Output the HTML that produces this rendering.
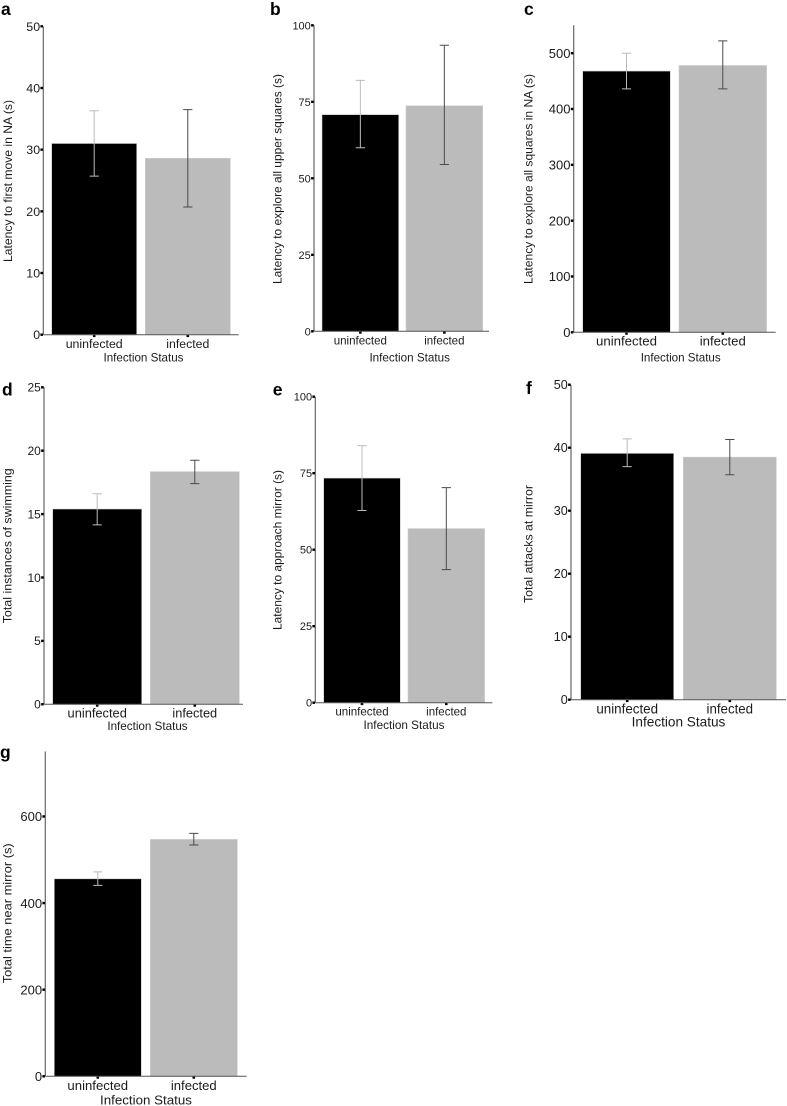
<!DOCTYPE html>
<html lang="en">
<head>
<meta charset="utf-8">
<title>Infection status behaviour bar charts</title>
<style>
  html, body { margin: 0; padding: 0; background: #fff; }
  #figure { display: block; width: 787px; height: 1106px; filter: blur(0.3px); }
  text { font-family: "Liberation Sans", sans-serif; fill: #1c1c1c; }
</style>
</head>
<body>
<svg id="figure" xmlns="http://www.w3.org/2000/svg" width="787" height="1106" viewBox="0 0 787 1106"></svg>
<script>
const categories = ['uninfected', 'infected'];
const xAxisTitle = 'Infection Status';

const aMeans = [31, 28.6];
const aLower = [25.7, 20.7];
const aUpper = [36.3, 36.5];
const aTicks = [0, 10, 20, 30, 40, 50];
const aMax = 50;

const bMeans = [70.8, 73.7];
const bLower = [60, 54.5];
const bUpper = [82, 93.5];
const bTicks = [0, 25, 50, 75, 100];
const bMax = 100;

const cMeans = [468, 478];
const cLower = [436, 436];
const cUpper = [500, 522];
const cTicks = [0, 100, 200, 300, 400, 500];
const cMax = 550;

const dMeans = [15.4, 18.35];
const dLower = [14.15, 17.4];
const dUpper = [16.6, 19.25];
const dTicks = [0, 5, 10, 15, 20, 25];
const dMax = 25;

const eMeans = [73.4, 56.9];
const eLower = [62.8, 43.5];
const eUpper = [84, 70.3];
const eTicks = [0, 25, 50, 75, 100];
const eMax = 100;

const fMeans = [39.1, 38.5];
const fLower = [37, 35.7];
const fUpper = [41.4, 41.3];
const fTicks = [0, 10, 20, 30, 40, 50];
const fMax = 50;

const gMeans = [456, 547];
const gLower = [441, 534];
const gUpper = [472, 561];
const gTicks = [0, 200, 400, 600];
const gMax = 750;

const panels = [
  { id: 'a', means: aMeans, lower: aLower, upper: aUpper, ticks: aTicks, max: aMax,
    yTitle: 'Latency to first move in NA (s)',
    box: { axisX: 43.3, right: 238.7, top: 26.3, bottom: 334.7, bar0: 51.7, barW: 85, step: 93.6 },
    type: { tick: 12.4, cat: 12.4, catW: 57, catY: 348, title: 11.7, titleW: 80, titleX: 143.5, titleY: 361.7, yX: 8, yY: 181, yLen: 162, yFont: 12, lx: 1, ly: 15 } },
  { id: 'b', means: bMeans, lower: bLower, upper: bUpper, ticks: bTicks, max: bMax,
    yTitle: 'Latency to explore all upper squares (s)',
    box: { axisX: 314, right: 489, top: 25.3, bottom: 331.3, bar0: 322, barW: 76.7, step: 84 },
    type: { tick: 11, cat: 11.6, catW: 53.3, catY: 344.3, title: 11.7, titleW: 80.5, titleX: 409.7, titleY: 361.7, yX: 277.7, yY: 179, yLen: 210, yFont: 12, lx: 270, ly: 15 } },
  { id: 'c', means: cMeans, lower: cLower, upper: cUpper, ticks: cTicks, max: cMax,
    yTitle: 'Latency to explore all squares in NA (s)',
    box: { axisX: 573.7, right: 775.7, top: 25.3, bottom: 332.3, bar0: 582.7, barW: 87.6, step: 96.3 },
    type: { tick: 13, cat: 13.2, catW: 61, catY: 345.3, title: 11.7, titleW: 80, titleX: 680.7, titleY: 361.7, yX: 528.3, yY: 179, yLen: 210, yFont: 12, lx: 524, ly: 15 } },
  { id: 'd', means: dMeans, lower: dLower, upper: dUpper, ticks: dTicks, max: dMax,
    yTitle: 'Total instances of swimming',
    box: { axisX: 44, right: 243, top: 387.3, bottom: 704.3, bar0: 52.7, barW: 89, step: 97.6 },
    type: { tick: 12, cat: 12.9, catW: 59.3, catY: 717.7, title: 11.7, titleW: 80.3, titleX: 147.5, titleY: 730, yX: 7.3, yY: 545.8, yLen: 155, yFont: 12, lx: 2, ly: 395.7 } },
  { id: 'e', means: eMeans, lower: eLower, upper: eUpper, ticks: eTicks, max: eMax,
    yTitle: 'Latency to approach mirror (s)',
    box: { axisX: 315.3, right: 492.3, top: 396.7, bottom: 702.7, bar0: 323.7, barW: 76.6, step: 84.3 },
    type: { tick: 11, cat: 11.6, catW: 53.3, catY: 715.7, title: 11.8, titleW: 81, titleX: 404, titleY: 729, yX: 277.7, yY: 550, yLen: 160, yFont: 12, lx: 272.7, ly: 395.7 } },
  { id: 'f', means: fMeans, lower: fLower, upper: fUpper, ticks: fTicks, max: fMax,
    yTitle: 'Total attacks at mirror',
    box: { axisX: 571, right: 786, top: 384.7, bottom: 699.7, bar0: 580.7, barW: 93, step: 102.6 },
    type: { tick: 12.6, cat: 13.4, catW: 61.7, catY: 713.3, title: 13.6, titleW: 93.7, titleX: 678.5, titleY: 726.7, yX: 528.7, yY: 544, yLen: 118, yFont: 12, lx: 526, ly: 394 } },
  { id: 'g', means: gMeans, lower: gLower, upper: gUpper, ticks: gTicks, max: gMax,
    yTitle: 'Total time near mirror (s)',
    box: { axisX: 45.3, right: 246.7, top: 751.5, bottom: 1076.3, bar0: 54.3, barW: 87, step: 96 },
    type: { tick: 13, cat: 13.1, catW: 60.7, catY: 1090, title: 13.3, titleW: 92, titleX: 146, titleY: 1104.3, yX: 7.3, yY: 913.3, yLen: 140, yFont: 12, lx: 0, ly: 758 } }
];

const barFills = ['#000000', '#bbbbbb'];
const barEdges = ['#c9c9c9', '#cfcfcf'];
const errorColors = ['#bcbcbc', '#4a4a4a'];
const SVG_NS = 'http://www.w3.org/2000/svg';
const figure = document.getElementById('figure');

function yScale(box, max) {
  return function (v) { return box.bottom - (v / max) * (box.bottom - box.top); };
}
function xBand(box) {
  return function (i) { return box.bar0 + box.step * i; };
}
function make(parent, tag, attrs) {
  const node = document.createElementNS(SVG_NS, tag);
  Object.keys(attrs).forEach(function (k) { node.setAttribute(k, attrs[k]); });
  parent.appendChild(node);
  return node;
}

panels.forEach(function (p) {
  const b = p.box;
  const t = p.type;
  const y = yScale(b, p.max);
  const x = xBand(b);

  const group = make(figure, 'g', {});
  
  

  const letter = make(group, 'text', { x: t.lx, y: t.ly, 'font-size': 17.5, 'font-weight': 'bold' });
  
  
  letter.style.fill = '#000';
  letter.textContent = p.id;

  categories.forEach(function (cat, i) {
    const left = x(i);
    const center = left + b.barW / 2;
    const topY = y(p.means[i]);

    const bar = make(group, 'rect', {
      x: left, y: topY, width: b.barW, height: b.bottom - topY,
      fill: barFills[i], stroke: barEdges[i], 'stroke-width': 0.6
    });
    
    

    const err = make(group, 'path', {
      d: 'M' + (center - 4.6) + ' ' + y(p.upper[i]) + 'H' + (center + 4.6) +
         'M' + center + ' ' + y(p.upper[i]) + 'V' + y(p.lower[i]) +
         'M' + (center - 4.6) + ' ' + y(p.lower[i]) + 'H' + (center + 4.6),
      fill: 'none', stroke: errorColors[i], 'stroke-width': 1
    });
    
    

    const tick = make(group, 'rect', { x: center - 1.3, y: b.bottom, width: 2.6, height: 2.4, fill: '#000' });
    
    

    const label = make(group, 'text', {
      x: center, y: t.catY, 'font-size': t.cat, 'text-anchor': 'middle',
      textLength: t.catW * (cat === 'infected' ? 0.755 : 1), lengthAdjust: 'spacingAndGlyphs'
    });
    
    
    label.textContent = cat;
  });

  const yAxis = make(group, 'line', { x1: b.axisX, x2: b.axisX, y1: b.top, y2: b.bottom, stroke: '#666', 'stroke-width': 1.2 });
  
  

  const xAxis = make(group, 'line', { x1: b.axisX, x2: b.right, y1: b.bottom, y2: b.bottom, stroke: '#555', 'stroke-width': 1 });
  
  

  p.ticks.forEach(function (v) {
    const tick = make(group, 'rect', { x: b.axisX - 2.9, y: y(v) - 1.2, width: 2.6, height: 2.4, fill: '#000' });
    
    

    const label = make(group, 'text', { x: b.axisX - 3.2, y: y(v) + t.tick * 0.36, 'font-size': t.tick, 'text-anchor': 'end' });
    
    
    label.textContent = v;
  });

  const xTitle = make(group, 'text', {
    x: t.titleX, y: t.titleY, 'font-size': t.title, 'text-anchor': 'middle',
    textLength: t.titleW, lengthAdjust: 'spacingAndGlyphs'
  });
  
  
  xTitle.textContent = xAxisTitle;

  const yTitle = make(group, 'text', {
    x: 0, y: 0, 'font-size': t.yFont, 'text-anchor': 'middle',
    transform: 'translate(' + (t.yX + 4) + ' ' + t.yY + ') rotate(-90)',
    textLength: t.yLen, lengthAdjust: 'spacingAndGlyphs'
  });
  
  
  yTitle.textContent = p.yTitle;
});
</script>
</body>
</html>
